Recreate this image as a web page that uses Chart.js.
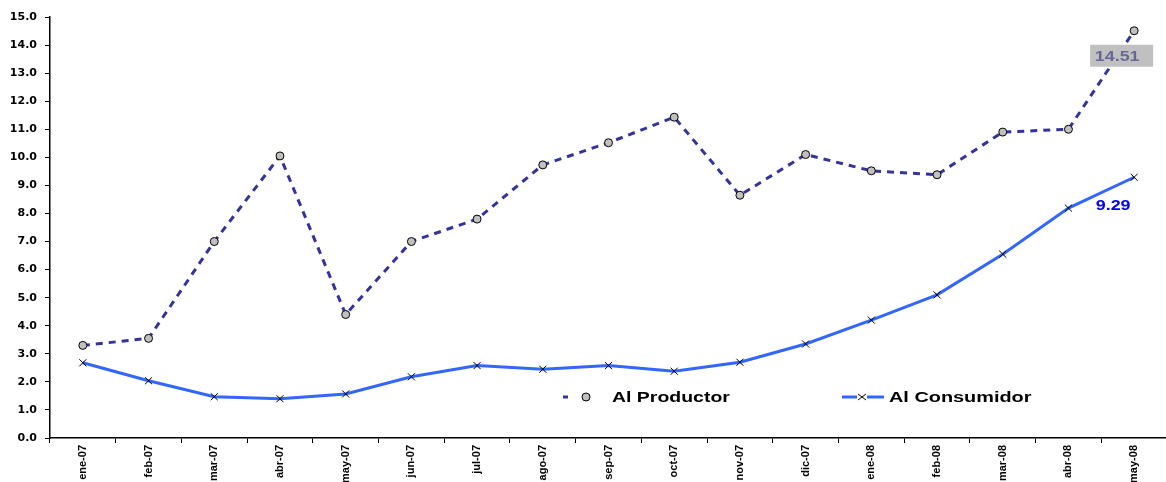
<!DOCTYPE html>
<html>
<head>
<meta charset="utf-8">
<script src="https://cdn.jsdelivr.net/npm/chart.js@4.4.1/dist/chart.umd.min.js"></script>
<style>
  html, body { margin: 0; padding: 0; background: #fff; overflow: hidden; }
  /* a few px wider than the window: the excel plot area runs off the right edge */
  #wrap { width: 1173px; height: 482px; position: relative; }
</style>
</head>
<body>
<div id="wrap"><canvas id="chart"></canvas></div>
<script>
const months = ['ene-07', 'feb-07', 'mar-07', 'abr-07', 'may-07', 'jun-07', 'jul-07', 'ago-07', 'sep-07',
  'oct-07', 'nov-07', 'dic-07', 'ene-08', 'feb-08', 'mar-08', 'abr-08', 'may-08'];
const productor = [3.3, 3.55, 7.0, 10.05, 4.4, 7.0, 7.8, 9.73, 10.52, 11.43, 8.65, 10.1, 9.52, 9.38, 10.9, 11.0, 14.51];
const consumidor = [2.68, 2.04, 1.47, 1.4, 1.57, 2.18, 2.58, 2.45, 2.58, 2.38, 2.7, 3.35, 4.2, 5.1, 6.55, 8.19, 9.29];
const seriesNames = ['Al Productor', 'Al Consumidor'];

// legend + last-value labels, drawn on top like the excel chart
const extras = {
  id: 'extras',
  afterDraw(chart) {
    const ctx = chart.ctx;
    const area = chart.chartArea;
    const legY = area.top + 380;

    function stretchText(txt, x, y, sx) {
      ctx.save();
      ctx.translate(x, y);
      ctx.scale(sx, 1);
      ctx.fillText(txt, 0, 0);
      ctx.restore();
    }

    ctx.save();
    ctx.font = 'bold 14px "Liberation Sans", Arial, sans-serif';
    ctx.textBaseline = 'middle';
    ctx.textAlign = 'left';
    ctx.fillStyle = '#000';

    // Al Productor
    ctx.strokeStyle = '#333399';
    ctx.lineWidth = 3;
    ctx.beginPath();
    ctx.moveTo(563, legY); ctx.lineTo(568, legY);
    ctx.stroke();
    ctx.beginPath();
    ctx.arc(586, legY, 4, 0, Math.PI * 2);
    ctx.fillStyle = '#c0c0c0';
    ctx.fill();
    ctx.lineWidth = 1;
    ctx.strokeStyle = '#000';
    ctx.stroke();
    ctx.fillStyle = '#000';
    stretchText(seriesNames[0], 612, legY + 1, 1.39);

    // Al Consumidor
    ctx.strokeStyle = '#3366ff';
    ctx.lineWidth = 3;
    ctx.beginPath();
    ctx.moveTo(842, legY); ctx.lineTo(857, legY);
    ctx.moveTo(867, legY); ctx.lineTo(884, legY);
    ctx.stroke();
    ctx.strokeStyle = '#000';
    ctx.lineWidth = 1;
    ctx.beginPath();
    ctx.moveTo(858, legY - 3); ctx.lineTo(866, legY + 3);
    ctx.moveTo(858, legY + 3); ctx.lineTo(866, legY - 3);
    ctx.stroke();
    stretchText(seriesNames[1], 889, legY + 1, 1.42);

    // last value labels
    const last = months.length - 1;
    const p = chart.getDatasetMeta(0).data[last];
    const c = chart.getDatasetMeta(1).data[last];
    const t1 = productor[last].toFixed(2);
    const t2 = consumidor[last].toFixed(2);
    ctx.font = 'bold 14px "Liberation Sans", Arial, sans-serif';
    ctx.textAlign = 'center';
    ctx.fillStyle = '#c0c0c0';
    ctx.fillRect(p.x - 44, p.y + 14, 63, 22);
    ctx.fillStyle = '#666699';
    stretchText(t1, p.x - 17, p.y + 26, 1.28);
    ctx.fillStyle = '#0000ff';
    stretchText(t2, c.x - 21, c.y + 29, 1.28);
    ctx.restore();
  }
};

new Chart(document.getElementById('chart'), {
  type: 'line',
  data: {
    labels: months,
    datasets: [
      {
        label: seriesNames[0],
        data: productor,
        borderColor: '#333399',
        borderWidth: 3,
        borderDash: [7, 6],
        pointStyle: 'circle',
        pointRadius: 4,
        pointBackgroundColor: '#c0c0c0',
        pointBorderColor: '#000',
        pointBorderWidth: 1,
        tension: 0
      },
      {
        label: seriesNames[1],
        data: consumidor,
        borderColor: '#3366ff',
        borderWidth: 3,
        pointStyle: 'crossRot',
        pointRadius: 5,
        pointBorderColor: '#000',
        pointBorderWidth: 1,
        tension: 0
      }
    ]
  },
  options: {
    responsive: true,
    maintainAspectRatio: false,
    animation: false,
    layout: { padding: { top: 17, right: 0, left: 0, bottom: 0 } },
    plugins: {
      legend: { display: false },
      tooltip: { enabled: false }
    },
    scales: {
      x: {
        offset: true,
        grid: { offset: true, drawOnChartArea: false, drawTicks: true, tickLength: 5, color: '#000' },
        border: { color: '#000', width: 1.5 },
        ticks: {
          color: '#000',
          minRotation: 90,
          maxRotation: 90,
          autoSkip: false,
          padding: 2,
          font: { family: '"Liberation Sans", Arial, sans-serif', size: 11, weight: 'bold' }
        },
        afterFit(scale) {
          scale.height = 44;
          scale.paddingLeft = 0;
          scale.paddingRight = 0;
        }
      },
      y: {
        min: 0,
        max: 15,
        grid: { drawOnChartArea: false, drawTicks: true, tickLength: 5, color: '#000' },
        border: { color: '#000', width: 1.5 },
        ticks: {
          stepSize: 1,
          color: '#000',
          padding: 8,
          font: { family: '"DejaVu Sans", sans-serif', size: 11, weight: 'bold' },
          callback: (v) => v.toFixed(1)
        },
        afterFit(scale) { scale.width = 50; }
      }
    }
  },
  plugins: [extras]
});
</script>
</body>
</html>
